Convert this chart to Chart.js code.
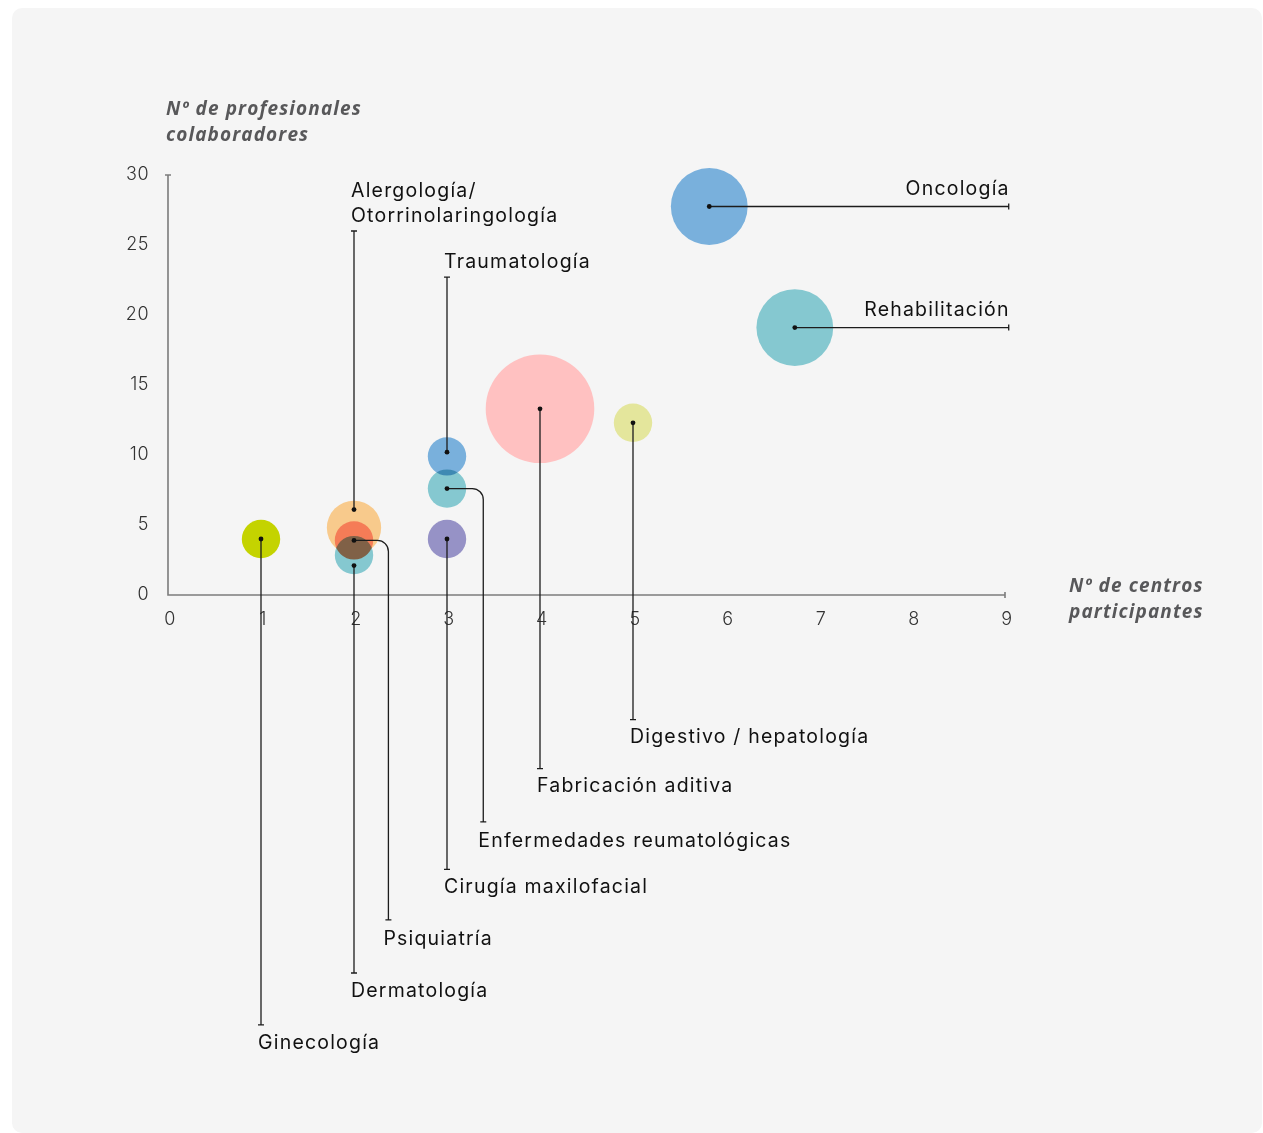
<!DOCTYPE html>
<html lang="es">
<head>
<meta charset="utf-8">
<title>Centros y profesionales por área</title>
<script src="https://cdn.jsdelivr.net/npm/chart.js@4.4.1/dist/chart.umd.min.js"></script>
<style>
  html, body { margin: 0; padding: 0; background: #ffffff; }
  #wrap { position: relative; width: 1263px; height: 1133px; overflow: hidden; }
  #panel { position: absolute; left: 12px; top: 8px; width: 1250px; height: 1125px;
           background: #f5f5f5; border-radius: 10px; }
  #chart { position: absolute; left: 0; top: 0; }
</style>
</head>
<body>
<div id="wrap">
  <div id="panel"></div>
  <canvas id="chart" width="1263" height="1133"></canvas>
</div>
<script>
// Áreas, nº de centros participantes, nº de profesionales y nº de proyectos (tamaño)
const categorias = [
  'Alergología/Otorrinolaringología', 'Psiquiatría', 'Dermatología', 'Ginecología',
  'Cirugía maxilofacial', 'Enfermedades reumatológicas', 'Traumatología',
  'Fabricación aditiva', 'Digestivo / hepatología', 'Oncología', 'Rehabilitación'
];
const centros       = [2, 2, 2, 1, 3, 3, 3, 4, 5, 5.82, 6.74];
const profesionales = [4.8, 3.9, 2.85, 4, 4, 7.6, 9.9, 13.3, 12.3, 27.75, 19.1];
const proyectos     = [2, 1, 1, 1, 1, 1, 1, 8, 1, 4, 4];

const xTicks = [0, 1, 2, 3, 4, 5, 6, 7, 8, 9];
const yTicks = [0, 5, 10, 15, 20, 25, 30];

const tituloY = ['Nº de profesionales', 'colaboradores'];
const tituloX = ['Nº de centros', 'participantes'];

// Estilo de cada burbuja
const estilos = {
  'Alergología/Otorrinolaringología': { color: '#f8ca8c', blend: 'source-over' },
  'Psiquiatría':                      { color: '#f57c57', blend: 'source-over' },
  'Dermatología':                     { color: '#85c8d0', blend: 'multiply' },
  'Ginecología':                      { color: '#c4d300', blend: 'source-over' },
  'Cirugía maxilofacial':             { color: '#9692c6', blend: 'source-over' },
  'Enfermedades reumatológicas':      { color: '#85c8d0', blend: 'source-over' },
  'Traumatología':                    { color: '#79b0dc', blend: 'multiply' },
  'Fabricación aditiva':              { color: '#ffc1c1', blend: 'source-over' },
  'Digestivo / hepatología':          { color: '#e4e69c', blend: 'source-over' },
  'Oncología':                        { color: '#79b0dc', blend: 'source-over' },
  'Rehabilitación':                   { color: '#85c8d0', blend: 'source-over' }
};

// Líneas guía hacia las etiquetas (extremos en unidades de los ejes)
const guias = {
  'Alergología/Otorrinolaringología': { dir: 'up', end: 26, anchorY: 6.1, text: ['Alergología/', 'Otorrinolaringología'] },
  'Psiquiatría':                      { dir: 'elbow', elbowX: 2.37, end: -23.2, text: ['Psiquiatría'] },
  'Dermatología':                     { dir: 'down', end: -27, anchorY: 2.1, text: ['Dermatología'] },
  'Ginecología':                      { dir: 'down', end: -30.7, text: ['Ginecología'] },
  'Cirugía maxilofacial':             { dir: 'down', end: -19.6, text: ['Cirugía maxilofacial'] },
  'Enfermedades reumatológicas':      { dir: 'elbow', elbowX: 3.39, end: -16.2, text: ['Enfermedades reumatológicas'] },
  'Traumatología':                    { dir: 'up', end: 22.7, anchorY: 10.2, text: ['Traumatología'] },
  'Fabricación aditiva':              { dir: 'down', end: -12.4, text: ['Fabricación aditiva'] },
  'Digestivo / hepatología':          { dir: 'down', end: -8.9, text: ['Digestivo / hepatología'] },
  'Oncología':                        { dir: 'right', end: 9.04, text: ['Oncología'] },
  'Rehabilitación':                   { dir: 'right', end: 9.04, text: ['Rehabilitación'] }
};

const FONT = 'Inter, "Noto Sans", sans-serif';
const FONT_TITULO = '"Open Sans", Inter, sans-serif';
const RADIO_BASE = 19.2;

const datasets = categorias.map((c, i) => ({
  label: c,
  data: [{ x: centros[i], y: profesionales[i], r: RADIO_BASE * Math.sqrt(proyectos[i]) }],
  backgroundColor: estilos[c].color,
  borderWidth: 0,
  hoverBorderWidth: 0,
  clip: false,
  order: -i
}));

// Fusión por burbuja
const mezcla = {
  id: 'mezcla',
  beforeDatasetDraw(chart, args) {
    const c = categorias[args.index];
    chart.ctx.save();
    chart.ctx.globalCompositeOperation = estilos[c].blend;
  },
  afterDatasetDraw(chart) {
    chart.ctx.restore();
  }
};

// Ejes, marcas y títulos
const ejes = {
  id: 'ejes',
  beforeDatasetsDraw(chart) {
    const { ctx } = chart;
    const xs = chart.scales.x, ys = chart.scales.y;
    const x0 = xs.getPixelForValue(0), x9 = xs.getPixelForValue(9);
    const y0 = ys.getPixelForValue(0), y30 = ys.getPixelForValue(30);
    ctx.save();
    ctx.strokeStyle = '#7c7c7c';
    ctx.lineWidth = 1.6;
    ctx.beginPath();
    ctx.moveTo(x0, y30); ctx.lineTo(x0, y0); ctx.lineTo(x9, y0);
    ctx.moveTo(x0 - 3, y30); ctx.lineTo(x0 + 3, y30);
    ctx.moveTo(x9, y0 - 3); ctx.lineTo(x9, y0 + 3);
    ctx.stroke();

    ctx.fillStyle = '#333333';
    ctx.font = '300 18px ' + FONT;
    ctx.letterSpacing = '0.5px';
    ctx.textBaseline = 'middle';
    ctx.textAlign = 'right';
    yTicks.forEach(v => ctx.fillText(String(v), x0 - 19, ys.getPixelForValue(v)));
    ctx.textAlign = 'center';
    xTicks.forEach(v => ctx.fillText(String(v), xs.getPixelForValue(v) + 2, y0 + 25));

    ctx.fillStyle = '#58585a';
    ctx.font = 'italic 700 19px ' + FONT_TITULO;
    ctx.letterSpacing = '1.1px';
    ctx.textAlign = 'left';
    tituloY.forEach((t, k) => ctx.fillText(t, x0 - 2, 110 + k * 26));
    tituloX.forEach((t, k) => ctx.fillText(t, x9 + 64, y0 - 8 + k * 26));
    ctx.restore();
  }
};

// Líneas guía, puntos y etiquetas de cada área
const etiquetas = {
  id: 'etiquetas',
  afterDatasetsDraw(chart) {
    const { ctx } = chart;
    const xs = chart.scales.x, ys = chart.scales.y;
    ctx.save();
    ctx.strokeStyle = '#1c1c1c';
    ctx.fillStyle = '#111111';
    ctx.lineWidth = 1.3;
    ctx.font = '19.5px ' + FONT;
    ctx.letterSpacing = '1.2px';
    ctx.textBaseline = 'middle';
    categorias.forEach((c, i) => {
      const g = guias[c];
      const ax = xs.getPixelForValue(centros[i]);
      const ay = ys.getPixelForValue(g.anchorY !== undefined ? g.anchorY : profesionales[i]);
      ctx.beginPath();
      if (g.dir === 'up' || g.dir === 'down') {
        const ey = ys.getPixelForValue(g.end);
        ctx.moveTo(ax, ay); ctx.lineTo(ax, ey);
        ctx.moveTo(ax - 3, ey); ctx.lineTo(ax + 3, ey);
        ctx.stroke();
        ctx.textAlign = 'left';
        if (g.dir === 'down') {
          ctx.fillText(g.text[0], ax - 3, ey + 18);
        } else {
          const n = g.text.length;
          g.text.forEach((t, k) => ctx.fillText(t, ax - 3, ey - 15 - (n - 1 - k) * 25));
        }
      } else if (g.dir === 'elbow') {
        const ex = xs.getPixelForValue(g.elbowX);
        const ey = ys.getPixelForValue(g.end);
        const R = 11;
        ctx.moveTo(ax, ay);
        ctx.lineTo(ex - R, ay);
        ctx.arcTo(ex, ay, ex, ay + R, R);
        ctx.lineTo(ex, ey);
        ctx.moveTo(ex - 3, ey); ctx.lineTo(ex + 3, ey);
        ctx.stroke();
        ctx.textAlign = 'left';
        ctx.fillText(g.text[0], ex - 5, ey + 19);
      } else {
        const ex = xs.getPixelForValue(g.end);
        ctx.moveTo(ax, ay); ctx.lineTo(ex, ay);
        ctx.moveTo(ex, ay - 3); ctx.lineTo(ex, ay + 3);
        ctx.stroke();
        ctx.textAlign = 'right';
        ctx.fillText(g.text[0], ex + 1, ay - 17);
      }
      ctx.beginPath();
      ctx.arc(ax, ay, 2.4, 0, Math.PI * 2);
      ctx.fill();
    });
    ctx.restore();
  }
};

new Chart(document.getElementById('chart'), {
  type: 'bubble',
  data: { datasets },
  options: {
    responsive: false,
    animation: false,
    events: [],
    layout: {
      autoPadding: false,
      padding: { left: 168, right: 1263 - 1005, top: 175, bottom: 1133 - 595 }
    },
    scales: {
      x: { type: 'linear', min: 0, max: 9, display: false },
      y: { type: 'linear', min: 0, max: 30, display: false }
    },
    plugins: { legend: { display: false }, tooltip: { enabled: false } }
  },
  plugins: [mezcla, ejes, etiquetas]
});
</script>
</body>
</html>
